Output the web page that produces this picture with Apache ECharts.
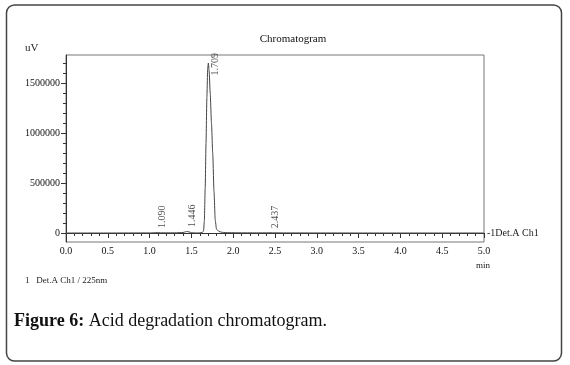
<!DOCTYPE html>
<html>
<head>
<meta charset="utf-8">
<style>html,body{margin:0;padding:0;background:#fff;}#c{width:570px;height:365px;}</style>
<script src="https://cdn.jsdelivr.net/npm/echarts@6/dist/echarts.min.js"></script>
</head>
<body>
<div id="c"></div>
<script>
// Retention time (min) and detector signal (uV)
var times  = [0.00, 0.50, 1.00, 1.05, 1.09, 1.13, 1.20, 1.30, 1.40, 1.43, 1.446, 1.47, 1.50, 1.55, 1.60, 1.63, 1.645, 1.655, 1.665, 1.675, 1.685, 1.695, 1.703, 1.712, 1.725, 1.74, 1.755, 1.77, 1.785, 1.80, 1.83, 1.87, 1.95, 2.10, 2.30, 2.40, 2.437, 2.47, 2.60, 3.00, 3.50, 4.00, 4.50, 5.00];
var signal = [0, 0, 1000, 2500, 4000, 2500, 2000, 2000, 5000, 12000, 15000, 11000, 4000, 1500, 1500, 5000, 20000, 120000, 450000, 900000, 1350000, 1650000, 1700000, 1620000, 1400000, 1100000, 800000, 420000, 130000, 40000, 15000, 6000, 3000, 2000, 1500, 2000, 3000, 2000, 1000, 500, 0, 0, 0, 0];
// Peak annotations
var peakTimes   = [1.090, 1.446, 1.709, 2.437];
var peakHeights = [4000, 15000, 1700000, 3000];
var peakLabels  = ['1.090', '1.446', '1.709', '2.437'];
// Axis ticks
var yTickLabels = [0, 500000, 1000000, 1500000];
var xTickLabels = ['0.0','0.5','1.0','1.5','2.0','2.5','3.0','3.5','4.0','4.5','5.0'];

var SERIF = '"Liberation Serif", "DejaVu Serif", serif';
var yMin = -90000, yMax = 1780000;
var yMinor = [];
for (var v = 0; v <= 1700000; v += 100000) yMinor.push(v);

var lineData = times.map(function (t, i) { return [t, signal[i]]; });
var peakData = peakTimes.map(function (t, i) {
  var big = peakHeights[i] > 1000000;
  return {
    value: [t, peakHeights[i]],
    label: {
      show: true,
      formatter: peakLabels[i],
      rotate: 90,
      position: big ? [7, 13] : [6, -4],
      align: 'left',
      verticalAlign: 'middle',
      fontFamily: SERIF,
      fontSize: 10,
      color: '#222'
    }
  };
});

var chart = echarts.init(document.getElementById('c'), null, {renderer: 'canvas'});
chart.setOption({
  animation: false,
  backgroundColor: '#fff',
  title: {
    text: 'Chromatogram',
    left: 288, top: 29, textAlign: 'center',
    textStyle: {fontFamily: SERIF, fontSize: 11, fontWeight: 'normal', color: '#111'}
  },
  grid: {left: 66, top: 55, width: 418, height: 187, show: true, borderColor: '#777', borderWidth: 1},
  xAxis: {
    type: 'value', min: 0, max: 5, interval: 0.5,
    axisLine: {show: true, lineStyle: {color: '#333', width: 1}},
    axisTick: {show: true, length: 5, lineStyle: {color: '#333'}},
    minorTick: {show: true, splitNumber: 5, length: 3, lineStyle: {color: '#333'}},
    splitLine: {show: false},
    axisLabel: {
      margin: 4, fontFamily: SERIF, fontSize: 10, color: '#111',
      formatter: function (val) { return xTickLabels[Math.round(val / 0.5)]; }
    }
  },
  yAxis: [{
    type: 'value', min: yMin, max: yMax,
    axisLine: {show: true, lineStyle: {color: '#333', width: 1}},
    axisTick: {show: true, length: 3, customValues: yMinor, lineStyle: {color: '#333'}},
    axisLabel: {show: false},
    splitLine: {show: false}
  }, {
    type: 'value', min: yMin, max: yMax, position: 'left',
    axisLine: {show: false},
    axisTick: {show: true, length: 5, customValues: yTickLabels, lineStyle: {color: '#333'}},
    axisLabel: {
      show: true, customValues: yTickLabels, margin: 6,
      fontFamily: SERIF, fontSize: 10, color: '#111',
      formatter: function (val) { return String(Math.round(val)); }
    },
    splitLine: {show: false}
  }],
  series: [{
    type: 'line',
    data: lineData,
    showSymbol: false,
    smooth: 0.2,
    smoothMonotone: 'x',
    lineStyle: {color: '#444', width: 1},
    endLabel: {
      show: true, formatter: '-1Det.A Ch1', distance: 3,
      fontFamily: SERIF, fontSize: 10, color: '#222'
    },
    z: 3
  }, {
    type: 'scatter',
    data: peakData,
    symbolSize: 1,
    itemStyle: {color: 'rgba(0,0,0,0)'},
    z: 4
  }],
  graphic: [
    {type: 'rect', shape: {x: 6.5, y: 5, width: 555, height: 356, r: 8}, style: {fill: 'none', stroke: '#444', lineWidth: 1.5}, z: 0},
    {type: 'text', x: 25, y: 48, style: {text: 'uV', fontFamily: SERIF, fontSize: 11, fill: '#222', verticalAlign: 'middle'}},
    {type: 'text', x: 483, y: 266, style: {text: 'min', fontFamily: SERIF, fontSize: 9, fill: '#222', align: 'center', verticalAlign: 'middle'}},
    {type: 'text', x: 25, y: 281, style: {text: '1   Det.A Ch1 / 225nm', fontFamily: SERIF, fontSize: 9, fill: '#222', verticalAlign: 'middle'}},
    {type: 'text', x: 14, y: 321, style: {
      text: '{b|Figure 6:} Acid degradation chromatogram.',
      fontFamily: SERIF, fontSize: 18, fill: '#111', verticalAlign: 'middle',
      rich: {b: {fontFamily: SERIF, fontSize: 18, fontWeight: 'bold', fill: '#111'}}
    }}
  ]
});
</script>
</body>
</html>
